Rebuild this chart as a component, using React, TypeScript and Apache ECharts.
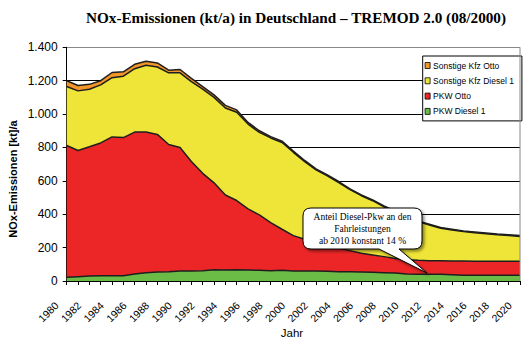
import React, { useEffect, useRef } from "react";
import * as echarts from "echarts";

const years = [
  "1980","1981","1982","1983","1984","1985","1986","1987","1988","1989",
  "1990","1991","1992","1993","1994","1995","1996","1997","1998","1999",
  "2000","2001","2002","2003","2004","2005","2006","2007","2008","2009",
  "2010","2011","2012","2013","2014","2015","2016","2017","2018","2019","2020",
];

// PKW Diesel 1 (kt/a)
const pkwDiesel = [
  22, 26, 30, 32, 32, 32, 42, 50, 54, 56,
  60, 60, 62, 68, 66, 68, 66, 64, 62, 64,
  60, 60, 60, 58, 56, 56, 54, 52, 50, 48,
  42, 40, 40, 40, 38, 35, 34, 34, 34, 34, 34,
];

// PKW Otto (kt/a)
const pkwOtto = [
  790, 756, 774, 795, 831, 827, 850, 842, 824, 762,
  740, 656, 583, 520, 449, 414, 366, 332, 288, 246,
  212, 190, 170, 158, 142, 126, 112, 104, 96, 87,
  86, 84, 82, 82, 82, 85, 85, 84, 84, 84, 84,
];

// Sonstige Kfz Diesel 1 (kt/a)
const sonstDiesel = [
  353, 357, 345, 348, 355, 368, 380, 400, 404, 429,
  447, 478, 504, 512, 521, 529, 508, 494, 507, 520,
  499, 465, 436, 414, 392, 365, 345, 325, 299, 278,
  252, 232, 214, 194, 186, 176, 170, 165, 159, 154, 149,
];

// Sonstige Kfz Otto (kt/a)
const sonstOtto = [
  35, 32, 29, 25, 31, 26, 26, 24, 24, 16,
  20, 20, 16, 15, 16, 14, 10, 10, 8, 8,
  7, 7, 6, 6, 6, 5, 5, 5, 5, 5,
  5, 4, 4, 4, 4, 4, 5, 5, 5, 5, 5,
];

const seriesNames = ["PKW Diesel 1", "PKW Otto", "Sonstige Kfz Diesel 1", "Sonstige Kfz Otto"];
const legendOrder = ["Sonstige Kfz Otto", "Sonstige Kfz Diesel 1", "PKW Otto", "PKW Diesel 1"];
const colors = ["#6BBB47", "#EC2626", "#EFE538", "#F3962A"];

const calloutLines = ["Anteil Diesel-Pkw an den", "Fahrleistungen", "ab 2010 konstant 14 %"];

const calloutPath =
  "M 311 208 L 414 208 Q 422 208 422 216 L 422 241 Q 422 249 414 249 L 399 249 L 427 273 L 379 249 L 311 249 Q 303 249 303 241 L 303 216 Q 303 208 311 208 Z";
echarts.graphic.registerShape("callout", echarts.graphic.extendPath(calloutPath, {}));

const fmt = (v: number) =>
  v >= 1000 ? `${Math.floor(v / 1000)}.${String(v % 1000).padStart(3, "0")}` : String(v);

export default function App() {
  const ref = useRef<HTMLDivElement>(null);
  useEffect(() => {
    if (!ref.current) return;
    const chart = echarts.init(ref.current, undefined, { renderer: "svg" });
    const dataSets = [pkwDiesel, pkwOtto, sonstDiesel, sonstOtto];
    chart.setOption({
      animation: false,
      backgroundColor: "#ffffff",
      grid: { left: 66.7, right: 10, top: 47.3, bottom: 70, show: false },
      legend: {
        orient: "vertical",
        left: 422.7,
        top: 56,
        data: legendOrder,
        icon: "rect",
        itemWidth: 5,
        itemHeight: 6,
        itemGap: 4.3,
        padding: [4, 8, 4, 2],
        backgroundColor: "#ffffff",
        borderColor: "#000000",
        borderWidth: 1,
        borderRadius: 0,
        itemStyle: { borderColor: "#000000", borderWidth: 0.8 },
        textStyle: { fontFamily: "Liberation Sans, Arial, sans-serif", fontSize: 8.5, color: "#000", lineHeight: 11, padding: [0, 0, 0, -2] },
      },
      xAxis: {
        type: "category",
        data: years,
        boundaryGap: false,
        axisLine: { show: true, lineStyle: { color: "#000", width: 1 } },
        axisTick: { show: true, interval: 0, length: 4, lineStyle: { color: "#000" } },
        axisLabel: {
          interval: 1,
          rotate: 45,
          margin: 13,
          padding: [0, 14, 0, 0],
          fontFamily: "Liberation Sans, Arial, sans-serif",
          fontSize: 10.5,
          color: "#000",
        },
        splitLine: { show: false },
      },
      yAxis: {
        type: "value",
        min: 0,
        max: 1400,
        interval: 200,
        axisLine: { show: true, lineStyle: { color: "#000", width: 1 } },
        axisTick: { show: true, length: 4, lineStyle: { color: "#000" } },
        axisLabel: {
          formatter: fmt,
          margin: 9,
          fontFamily: "Liberation Sans, Arial, sans-serif",
          fontSize: 12,
          color: "#000",
        },
        splitLine: {
          show: true,
          lineStyle: { color: ["#000", "#000", "#000", "#000", "#000", "#000", "#000", "#888"], width: 1 },
        },
      },
      series: seriesNames.map((name, i) => ({
        name,
        type: "line",
        stack: "total",
        data: dataSets[i],
        symbol: "none",
        itemStyle: { color: colors[i] },
        lineStyle: { color: "#1e1e1e", width: 1.5 },
        areaStyle: { color: colors[i], opacity: 1 },
      })),
      graphic: [
        {
          type: "line",
          z: 50,
          shape: { x1: 520, y1: 47.3, x2: 520, y2: 281 },
          style: { stroke: "#888", lineWidth: 1 },
        },
        {
          type: "text",
          x: 296,
          y: 17,
          z: 50,
          style: {
            text: "NOx-Emissionen (kt/a) in Deutschland – TREMOD 2.0 (08/2000)",
            font: "bold 15.2px 'Liberation Serif', 'Times New Roman', serif",
            fill: "#000",
            textAlign: "center",
            textVerticalAlign: "middle",
          },
        },
        {
          type: "text",
          x: 13.3,
          y: 179,
          rotation: Math.PI / 2,
          z: 50,
          style: {
            text: "NOx-Emissionen [kt]/a",
            font: "bold 11px 'Liberation Sans', Arial, sans-serif",
            fill: "#000",
            textAlign: "center",
            textVerticalAlign: "middle",
          },
        },
        {
          type: "text",
          x: 292,
          y: 333,
          z: 50,
          style: {
            text: "Jahr",
            font: "11.5px 'Liberation Sans', Arial, sans-serif",
            fill: "#000",
            textAlign: "center",
            textVerticalAlign: "middle",
          },
        },
        {
          type: "callout",
          x: 0,
          y: 0,
          z: 60,
          style: {
            fill: "#ffffff",
            stroke: "#000000",
            lineWidth: 1,
            shadowBlur: 3,
            shadowOffsetX: 2,
            shadowOffsetY: 2,
            shadowColor: "rgba(0,0,0,0.45)",
          },
        },
        {
          type: "text",
          x: 362.5,
          y: 229,
          z: 61,
          style: {
            text: calloutLines.join("\n"),
            font: "9.5px 'Liberation Serif', 'Times New Roman', serif",
            lineHeight: 12,
            fill: "#000",
            textAlign: "center",
            textVerticalAlign: "middle",
          },
        },
      ],
    });
    return () => chart.dispose();
  }, []);
  return (
    <div
      ref={ref}
      style={{ position: "absolute", left: 0, top: 0, width: 530, height: 351 }}
    />
  );
}
